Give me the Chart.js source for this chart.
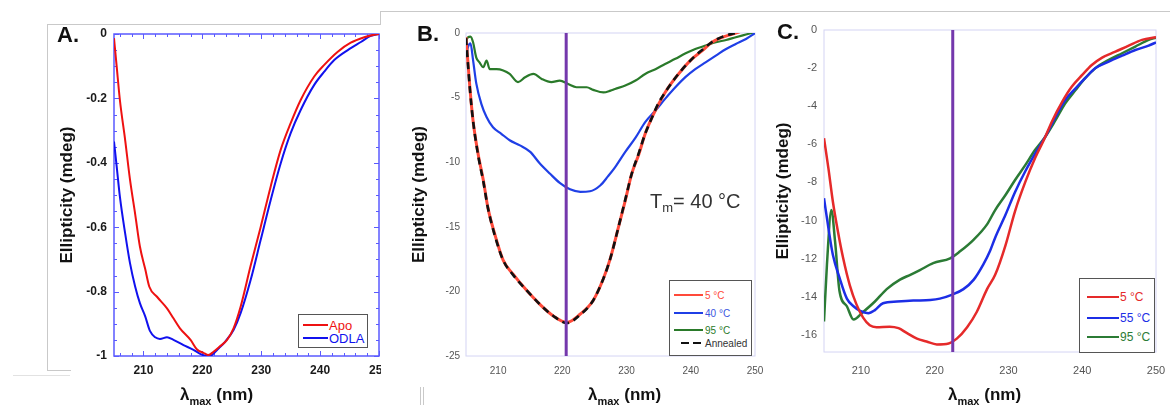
<!DOCTYPE html>
<html>
<head>
<meta charset="utf-8">
<script src="https://cdn.jsdelivr.net/npm/chart.js@4.4.1/dist/chart.umd.min.js"></script>
<style>
  body { margin: 0; background: #fff; font-family: 'Liberation Sans', Arial, sans-serif; }
  #fig { position: relative; width: 1170px; height: 405px; overflow: hidden; background: #fff; }
  .box { position: absolute; top: 0; height: 405px; overflow: hidden; }
  .rule { position: absolute; background: #c9c9c9; }
  .tag { position: absolute; font-weight: bold; font-size: 22px; line-height: 22px; color: #111; z-index: 2; }
  .xtitle { position: absolute; font-weight: bold; font-size: 17px; line-height: 17px; color: #111; white-space: nowrap; z-index: 2; }
  .xtitle sub { font-size: 11px; vertical-align: -5px; line-height: 0; }
  .tm { position: absolute; font-size: 20px; line-height: 20px; color: #333; white-space: nowrap; z-index: 2; }
  .tm sub { font-size: 13px; vertical-align: -4px; line-height: 0; }
  .legend { position: absolute; background: #fff; border: 1px solid #555; z-index: 2; box-sizing: border-box; }
  .legend .row { position: absolute; display: flex; align-items: center; white-space: nowrap; }
</style>
</head>
<body>
<div id="fig">
  <div class="rule" style="left:47px;top:24px;width:333px;height:1px"></div>
  <div class="rule" style="left:380px;top:11px;width:1px;height:14px"></div>
  <div class="rule" style="left:380px;top:11px;width:790px;height:1px"></div>
  <div class="rule" style="left:47px;top:24px;width:1px;height:346px"></div>
  <div class="rule" style="left:47px;top:370px;width:24px;height:1px"></div>
  <div class="rule" style="left:13px;top:375px;width:57px;height:1px;background:#e2e2e2"></div>
  <div class="rule" style="left:420px;top:387px;width:1px;height:18px"></div>
  <div class="rule" style="left:423px;top:387px;width:1px;height:18px"></div>

  <div class="box" style="left:40px;width:341px"><canvas id="chartA" width="341" height="405"></canvas></div>
  <div class="box" style="left:384px;width:386px"><canvas id="chartB" width="386" height="405"></canvas></div>
  <div class="box" style="left:770px;width:400px"><canvas id="chartC" width="400" height="405"></canvas></div>

  <div class="tag" style="left:57px;top:24px">A.</div>
  <div class="tag" style="left:417px;top:23px">B.</div>
  <div class="tag" style="left:777px;top:21px">C.</div>

  <div class="xtitle" style="left:180px;top:386px">λ<sub>max</sub> (nm)</div>
  <div class="xtitle" style="left:588px;top:386px">λ<sub>max</sub> (nm)</div>
  <div class="xtitle" style="left:948px;top:386px">λ<sub>max</sub> (nm)</div>

  <div class="tm" id="tmB" style="left:650px;top:191px"></div>

  <div class="legend" id="legA" style="left:298px;top:314px;width:70px;height:34px"></div>
  <div class="legend" id="legB" style="left:669px;top:280px;width:83px;height:76px"></div>
  <div class="legend" id="legC" style="left:1079px;top:278px;width:76px;height:75px"></div>
</div>

<script>
  // ---- panel A : Apo vs ODLA ----
  const aWaveApo = [205, 205.45, 206, 206.9, 207.7, 208.6, 209.4, 210.3, 211, 212.3, 214, 215.1, 216.2, 218, 219.1, 220.2, 221, 221.9, 223, 224.2, 225.3, 226.5, 228.2, 229.9, 231.6, 233.3, 235, 236.7, 239, 240.7, 243, 245.2, 247.5, 249.2, 250];
  const aApo = [-0.013, -0.10, -0.205, -0.33, -0.45, -0.56, -0.66, -0.73, -0.785, -0.816, -0.852, -0.883, -0.914, -0.95, -0.98, -0.99, -0.997, -0.987, -0.97, -0.95, -0.914, -0.847, -0.72, -0.6, -0.474, -0.36, -0.277, -0.205, -0.132, -0.096, -0.055, -0.027, -0.01, -0.002, 0];
  const aWaveOdla = [205, 205.45, 206, 206.9, 207.7, 208.6, 209.4, 210.3, 211.1, 212, 212.8, 214, 215.1, 216.8, 218.5, 219.7, 220.8, 221.6, 222.8, 223.9, 225.3, 226.5, 228.2, 229.9, 231.6, 233.3, 235, 236.7, 239, 240.7, 242.4, 244.7, 247, 248.6, 250];
  const aOdla = [-0.334, -0.41, -0.505, -0.62, -0.71, -0.785, -0.836, -0.877, -0.922, -0.942, -0.947, -0.942, -0.95, -0.966, -0.981, -0.994, -1.0, -0.997, -0.976, -0.955, -0.919, -0.867, -0.764, -0.64, -0.516, -0.402, -0.308, -0.236, -0.158, -0.117, -0.081, -0.05, -0.024, -0.006, 0];
  const aXTicks = [210, 220, 230, 240, 250];
  const aYTicks = [0, -0.2, -0.4, -0.6, -0.8, -1];
  const aSeries = ['Apo', 'ODLA'];

  // ---- panel B : temperature melt ----
  const bWave5 = [205, 205.2, 205.6, 206.1, 206.9, 207.7, 208.4, 209.5, 210.8, 212.3, 214.4, 216.5, 218.6, 220.7, 222.8, 224.8, 226.4, 227.5, 228.75, 229.8, 230.8, 231.9, 232.9, 234, 235, 236, 237.1, 238.7, 240.2, 241.8, 243.3, 244.9, 246.5, 247.8];
  const b5 = [-0.33, -1.6, -4.2, -6.8, -9.4, -11.4, -13.5, -15.6, -17.6, -18.65, -19.9, -21.0, -21.9, -22.4, -21.75, -20.7, -19.0, -17.4, -15.0, -12.97, -10.9, -9.4, -7.8, -6.5, -5.5, -4.6, -3.8, -2.8, -2.0, -1.36, -0.72, -0.33, -0.08, 0.13];
  const bWave40 = [205, 205.3, 205.7, 206.1, 206.6, 207.4, 208.2, 209.2, 210.5, 211.8, 213.4, 215, 216.5, 218.1, 219.6, 221.2, 222.8, 224.3, 225.9, 227.1, 228.2, 229.8, 231.4, 232.9, 234.5, 236, 237.6, 239.2, 240.7, 242.3, 243.9, 245.5, 247, 248.6, 250];
  const b40 = [-1.9, -1.1, -0.8, -2.1, -3.9, -5.5, -6.5, -7.3, -7.8, -8.3, -8.7, -9.2, -10.1, -10.9, -11.6, -12.1, -12.3, -12.25, -11.8, -11.1, -10.4, -9.2, -8.1, -6.9, -6.0, -5.1, -4.2, -3.4, -2.8, -2.27, -1.75, -1.24, -0.85, -0.46, -0.02];
  const bWave95 = [205, 205.3, 205.7, 206.1, 206.6, 207.1, 207.7, 208.2, 208.7, 209.75, 210.8, 211.8, 213.1, 214.2, 215.5, 216.8, 218.3, 219.6, 220.9, 222.2, 223.8, 224.8, 226.4, 227.5, 228.2, 229.8, 231.4, 232.9, 234.5, 236, 237.6, 239.2, 240.7, 242.3, 243.9, 245.5, 247, 248.6, 249.9];
  const b95 = [-0.6, -0.33, -0.28, -0.72, -1.9, -2.27, -2.65, -2.14, -2.8, -2.8, -2.9, -3.17, -3.8, -3.43, -3.17, -3.56, -3.8, -3.68, -3.95, -4.2, -4.2, -4.4, -4.6, -4.46, -4.33, -4.07, -3.68, -3.17, -2.8, -2.4, -2.0, -1.57, -1.24, -0.98, -0.72, -0.54, -0.33, -0.12, 0.05];
  const bWaveAnn = [205, 205.2, 205.6, 206.1, 206.9, 207.7, 208.4, 209.5, 210.8, 212.3, 214.4, 216.5, 218.6, 220.7, 222.8, 224.8, 226.4, 227.5, 228.75, 229.8, 230.8, 231.9, 232.9, 234, 235, 236, 237.1, 238.7, 240.2, 241.8, 243.3, 244.9, 246.5, 247.5];
  const bAnn = [-0.4, -1.7, -4.3, -6.8, -9.5, -11.5, -13.5, -15.7, -17.6, -18.7, -19.9, -21.0, -21.9, -22.45, -21.8, -20.7, -19.0, -17.4, -15.0, -12.9, -10.9, -9.3, -7.8, -6.5, -5.4, -4.6, -3.8, -2.8, -2.0, -1.3, -0.7, -0.3, -0.05, 0.05];
  const bXTicks = [210, 220, 230, 240, 250];
  const bYTicks = [0, -5, -10, -15, -20, -25];
  const bSeries = ['5 °C', '40 °C', '95 °C', 'Annealed'];
  const bMarker = 220.6;
  const bTm = '40 °C';

  // ---- panel C ----
  const cWave5 = [205, 205.6, 206.2, 206.9, 207.6, 208.5, 209.4, 210.3, 211.2, 212.1, 213.9, 215.1, 216.2, 217.6, 218.9, 220.3, 221.9, 223, 224.4, 225.7, 227.1, 228.2, 229.6, 230.9, 232.3, 233.6, 234.8, 235.9, 237.3, 238.6, 240, 241.3, 242.7, 244.5, 246.3, 248.1, 250];
  const c5 = [-5.68, -7.26, -9.0, -10.6, -11.98, -13.4, -14.4, -15.1, -15.5, -15.6, -15.57, -15.65, -15.9, -16.2, -16.35, -16.5, -16.45, -16.2, -15.6, -14.8, -13.6, -12.85, -11.3, -9.5, -7.96, -6.73, -5.77, -4.8, -3.76, -2.97, -2.36, -1.84, -1.45, -1.14, -0.82, -0.52, -0.38];
  const cWave55 = [205, 205.6, 206.2, 207.1, 208.1, 209, 209.9, 211, 211.9, 213, 214.9, 217.1, 219.4, 220.7, 222.3, 223.9, 225.3, 226.6, 227.5, 228.2, 229.6, 230.9, 232.3, 233.6, 235, 236.4, 237.7, 239.1, 240.4, 241.8, 243.6, 245.4, 247.2, 249, 250];
  const c55 = [-8.83, -10.4, -11.8, -13.0, -14.1, -14.5, -14.74, -14.86, -14.7, -14.34, -14.25, -14.2, -14.17, -14.1, -13.9, -13.6, -13.1, -12.3, -11.6, -10.9, -9.7, -8.5, -7.4, -6.5, -5.6, -4.55, -3.67, -3.06, -2.53, -2.0, -1.66, -1.35, -1.05, -0.82, -0.65];
  const cWave95 = [205, 205.4, 206, 206.5, 207.1, 208.1, 209, 210.3, 211.9, 213.5, 215.3, 216.7, 218, 219.8, 222.1, 223.4, 225.3, 227.1, 228.2, 229.6, 230.9, 232.3, 233.6, 235, 236.4, 237.7, 239.1, 240.4, 241.8, 243.6, 245.4, 247.2, 249, 250];
  const c95 = [-15.3, -12.3, -9.45, -11.1, -13.7, -14.5, -15.2, -14.8, -14.25, -13.6, -13.1, -12.85, -12.6, -12.24, -11.98, -11.63, -11.0, -10.2, -9.45, -8.66, -7.87, -7.08, -6.3, -5.6, -4.72, -3.85, -3.15, -2.53, -2.0, -1.57, -1.22, -0.87, -0.52, -0.4];
  const cXTicks = [210, 220, 230, 240, 250];
  const cYTicks = [0, -2, -4, -6, -8, -10, -12, -14, -16];
  const cSeries = ['5 °C', '55 °C', '95 °C'];
  const cMarker = 222.45;

  Chart.defaults.font.family = "'Liberation Sans', Arial, sans-serif";

  // box round the plot, plus small inward ticks (panel A only)
  const panelFrame = {
    id: 'panelFrame',
    beforeDatasetsDraw(chart, args, o) {
      const { ctx, chartArea: a, scales: { x, y } } = chart;
      ctx.save();
      ctx.strokeStyle = o.color;
      ctx.lineWidth = o.width;
      ctx.strokeRect(a.left, a.top, a.right - a.left, a.bottom - a.top);
      if (o.xMinor) {
        ctx.lineWidth = 1;
        ctx.beginPath();
        for (let i = Math.ceil(x.min / o.xMinor); i * o.xMinor <= x.max + 1e-9; i++) {
          const px = Math.round(x.getPixelForValue(i * o.xMinor)) + 0.5;
          const len = i % o.xEvery === 0 ? 5 : 3;
          ctx.moveTo(px, a.bottom); ctx.lineTo(px, a.bottom - len);
          ctx.moveTo(px, a.top); ctx.lineTo(px, a.top + len);
        }
        for (let i = Math.ceil(y.min / o.yMinor - 1e-9); i * o.yMinor <= y.max + 1e-9; i++) {
          const py = Math.round(y.getPixelForValue(i * o.yMinor)) + 0.5;
          const len = i % o.yEvery === 0 ? 5 : 3;
          ctx.moveTo(a.left, py); ctx.lineTo(a.left + len, py);
          ctx.moveTo(a.right, py); ctx.lineTo(a.right - len, py);
        }
        ctx.stroke();
      }
      ctx.restore();
    }
  };

  const pts = (xs, ys) => xs.map((x, i) => ({ x, y: ys[i] }));
  const line = (label, xs, ys, color, width, extra) => Object.assign({
    label, data: pts(xs, ys), borderColor: color, borderWidth: width,
    pointRadius: 0, cubicInterpolationMode: 'monotone', fill: false
  }, extra || {});

  function panel(id, datasets, o) {
    const tick = { font: o.tickFont, color: o.tickColor, autoSkip: false, maxRotation: 0, callback: v => String(v) };
    return new Chart(document.getElementById(id), {
      type: 'line',
      data: { datasets },
      options: {
        responsive: false,
        animation: false,
        layout: { autoPadding: false, padding: { top: o.padTop, right: o.padRight, left: 0, bottom: 0 } },
        plugins: { legend: { display: false }, tooltip: { enabled: false }, panelFrame: o.frame },
        scales: {
          x: {
            type: 'linear', min: 205, max: 250,
            grid: { display: false, drawTicks: false }, border: { display: false },
            afterBuildTicks: s => { s.ticks = o.xTicks.map(value => ({ value })); },
            afterFit: s => { s.height = o.xAxisH; s.paddingLeft = 0; s.paddingRight = 0; },
            ticks: Object.assign({ padding: o.xTickPad }, tick)
          },
          y: {
            type: 'linear', min: o.yMin, max: 0,
            grid: { display: false, drawTicks: false }, border: { display: false },
            afterBuildTicks: s => { s.ticks = o.yTicks.map(value => ({ value })); },
            afterFit: s => { s.width = o.yAxisW; s.paddingTop = 0; s.paddingBottom = 0; },
            ticks: Object.assign({ padding: o.yTickPad }, tick),
            title: { display: true, text: 'Ellipticity (mdeg)', color: '#111',
                     font: { size: 17, weight: 'bold' }, padding: { top: o.titlePad, bottom: 0 } }
          }
        }
      },
      plugins: [panelFrame]
    });
  }

  const purple = '#7438ac';
  const vline = (xv, y0, y1) => ({ label: 'marker', data: [{ x: xv, y: y0 }, { x: xv, y: y1 }],
    borderColor: purple, borderWidth: 3, pointRadius: 0, order: 0 });

  const colA = ['#ee1111', '#1111ee'];
  panel('chartA', [
    line(aSeries[0], aWaveApo, aApo, colA[0], 2, { order: 1 }),
    line(aSeries[1], aWaveOdla, aOdla, colA[1], 2, { order: 2 })
  ], {
    yMin: -1, xTicks: aXTicks, yTicks: aYTicks,
    padTop: 34, padRight: 2, yAxisW: 74, xAxisH: 49, titlePad: 17,
    tickFont: { size: 12, weight: 'bold' }, tickColor: '#1a1a1a', xTickPad: 7, yTickPad: 7,
    frame: { color: '#5a5aff', width: 1.5, xMinor: 2, xEvery: 5, yMinor: 0.05, yEvery: 4 }
  });

  const colB = ['#ff4a3a', '#1f3fe6', '#2a7a2a', '#111111'];
  panel('chartB', [
    vline(bMarker, 0, -25),
    line(bSeries[3], bWaveAnn, bAnn, colB[3], 2.6, { borderDash: [7, 5], order: 1 }),
    line(bSeries[0], bWave5, b5, colB[0], 3, { order: 2 }),
    line(bSeries[1], bWave40, b40, colB[1], 2.2, { order: 3 }),
    line(bSeries[2], bWave95, b95, colB[2], 2.2, { order: 4 })
  ], {
    yMin: -25, xTicks: bXTicks, yTicks: bYTicks,
    padTop: 33, padRight: 15, yAxisW: 82, xAxisH: 49, titlePad: 25,
    tickFont: { size: 10 }, tickColor: '#555', xTickPad: 9, yTickPad: 6,
    frame: { color: '#d4d4f4', width: 1 }
  });

  const colC = ['#e52a2a', '#1c2ee6', '#2b7b35'];
  panel('chartC', [
    vline(cMarker, 0, -16.9),
    line(cSeries[0], cWave5, c5, colC[0], 2.5, { order: 1 }),
    line(cSeries[1], cWave55, c55, colC[1], 2.5, { order: 2 }),
    line(cSeries[2], cWave95, c95, colC[2], 2.5, { order: 3 })
  ], {
    yMin: -16.9, xTicks: cXTicks, yTicks: cYTicks,
    padTop: 30, padRight: 14, yAxisW: 54, xAxisH: 53, titlePad: 3,
    tickFont: { size: 11 }, tickColor: '#555', xTickPad: 12, yTickPad: 7,
    frame: { color: '#d4d4f4', width: 1 }
  });

  // Tm note
  document.getElementById('tmB').innerHTML = 'T<sub>m</sub>= ' + bTm;

  // legends, built from the series names and colours
  function legend(id, labels, colors, o) {
    const box = document.getElementById(id);
    labels.forEach((lab, i) => {
      const row = document.createElement('div');
      row.className = 'row';
      row.style.left = o.left + 'px';
      row.style.top = (o.centers[i] - 8) + 'px';
      row.style.height = '16px';
      row.style.fontSize = o.font + 'px';
      const sw = document.createElement('span');
      const dashed = o.dashed && o.dashed[i];
      sw.style.display = 'inline-block';
      sw.style.width = (dashed ? o.swatch - 7 : o.swatch) + 'px';
      sw.style.marginLeft = (dashed ? 7 : 0) + 'px';
      sw.style.height = o.lw + 'px';
      sw.style.background = dashed
        ? `repeating-linear-gradient(to right, ${colors[i]} 0 8px, transparent 8px 12px)`
        : colors[i];
      const tx = document.createElement('span');
      tx.textContent = lab;
      tx.style.color = o.textColors ? o.textColors[i] : colors[i];
      tx.style.marginLeft = o.gap + 'px';
      row.append(sw, tx);
      box.append(row);
    });
  }
  legend('legA', aSeries, colA, { left: 4, centers: [10, 23], swatch: 25, lw: 2, gap: 1, font: 13 });
  legend('legB', bSeries, colB, { left: 4, centers: [14, 32, 49, 62], swatch: 29, lw: 2.5, gap: 2, font: 10,
    dashed: [false, false, false, true], textColors: ['#ff4a3a', '#3a55e0', '#2a7a2a', '#333'] });
  legend('legC', cSeries, colC, { left: 7, centers: [18, 39, 58], swatch: 32, lw: 2.5, gap: 1, font: 12 });
</script>
</body>
</html>
